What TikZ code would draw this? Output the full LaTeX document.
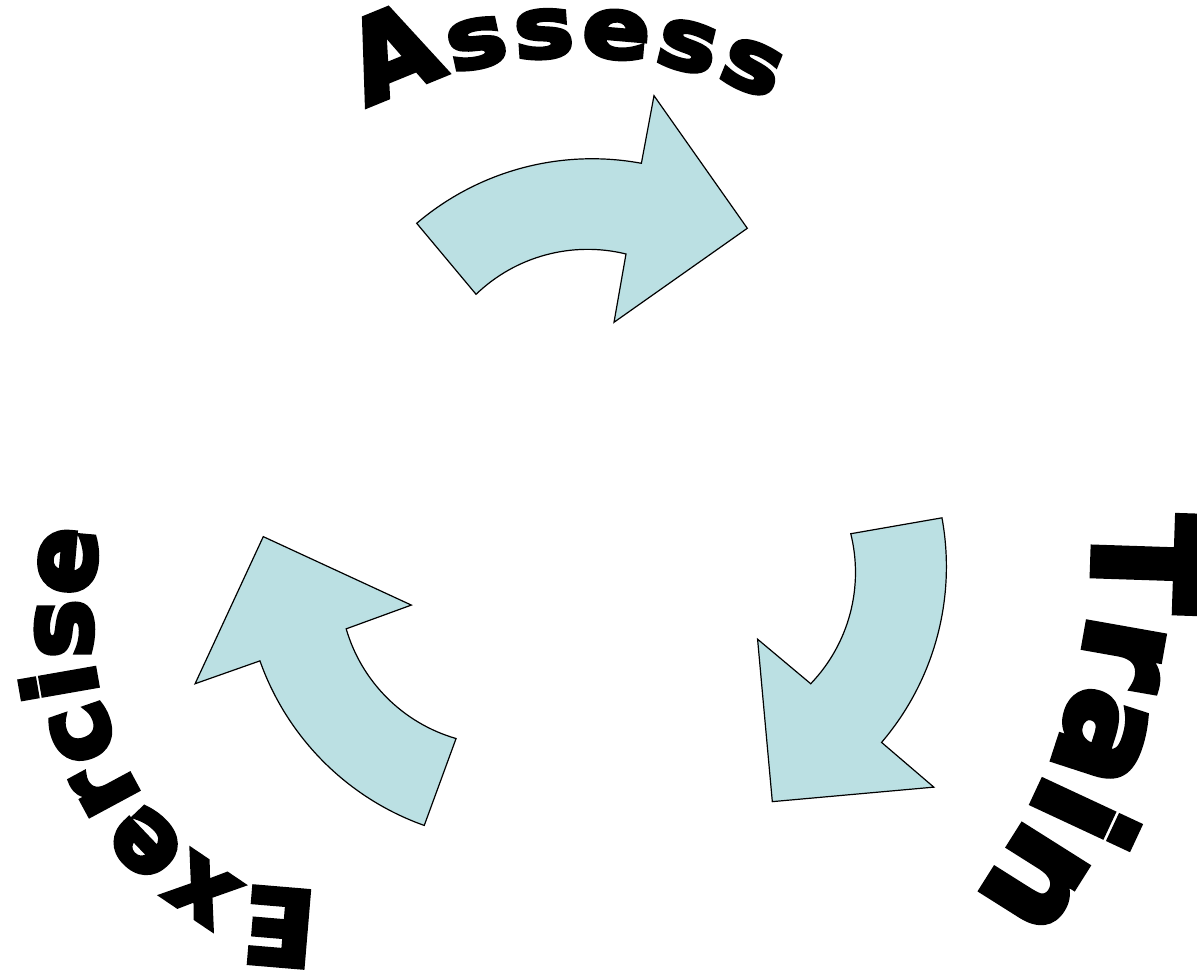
\documentclass[tikz,border=0pt]{standalone}
\usepackage{fontspec}
\usepackage{tikz}
\usetikzlibrary{decorations.text}

\newfontfamily\archfont{DejaVu Sans}[BoldFeatures={FakeBold=5}]
\newfontfamily\archwide{DejaVu Sans}[BoldFeatures={FakeBold=5,FakeStretch=1.2}]
\definecolor{arrowfill}{RGB}{187,224,227}

\begin{document}
\begin{tikzpicture}[x=1pt,y=1pt,
    arrowshape/.style={draw=black, line width=1.2pt, fill=arrowfill, line join=miter},
    archtext/.style={decorate, decoration={text along path, text={#1}, text align={fit to path}}}]
    \useasboundingbox (0,0) rectangle (1197,973);
    \clip (0,0) rectangle (1197,973);
    \coordinate (cycle) at (594.3,450.8);

    % Three curved arrows, turned round the middle
    \foreach \turn in {0,-120,-240} {
        \draw[arrowshape, rotate around={\turn:(cycle)}]
            (416.7,749.7) arc[start angle=130.4, end angle=79.5, radius=270.6]
            -- (654,877.3) -- (747.3,744.7) -- (614,650.7) -- (626,719)
            arc[start angle=76.2, end angle=133.9, radius=160.9] -- cycle;
    }

    % Assess
    \path[archtext={|\archfont\bfseries\fontsize{112}{112}\selectfont|A|\archwide\bfseries\fontsize{84}{84}\selectfont|ssess}]
        (576,471) ++(117.8:446) arc[start angle=117.8, end angle=64.1, radius=446];

    % Train
    \path[archtext={|\archfont\bfseries\fontsize{142}{142}\selectfont|T|\archfont\bfseries\fontsize{138}{138}\selectfont|rain}]
        (502,431) ++(2.8:592) arc[start angle=2.8, end angle=-37, radius=592];

    % Exercise
    \path[archtext={|\archfont\bfseries\fontsize{104}{104}\selectfont|E|\archfont\bfseries\fontsize{99}{99}\selectfont|xercise}]
        (318,82) to[out=178, in=-35] (215,107) to[out=145, in=-70] (110,243) to[out=110, in=-95] (98,443);
\end{tikzpicture}
\end{document}
